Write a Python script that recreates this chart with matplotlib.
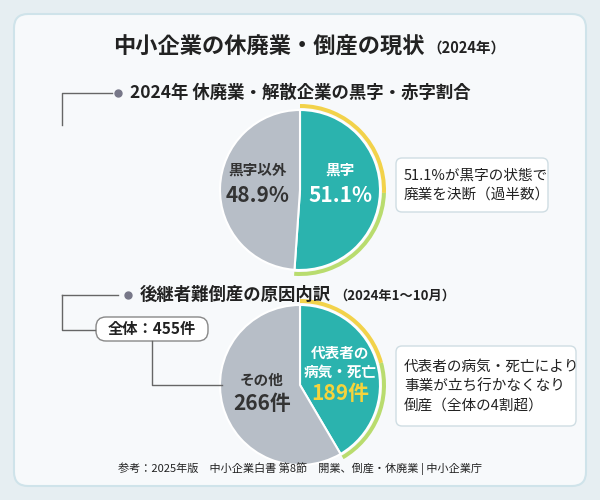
import matplotlib
matplotlib.use("Agg")
import matplotlib.pyplot as plt
from matplotlib.patches import FancyBboxPatch, Wedge

plt.rcParams['font.family'] = ['Noto Sans CJK JP', 'DejaVu Sans']

pie1_labels = ["黒字", "黒字以外"]
pie1_values = [51.1, 48.9]
pie2_labels = ["代表者の\n病気・死亡", "その他"]
pie2_values = [189, 266]
total = 455

fig = plt.figure(figsize=(6, 5), dpi=100)
fig.patch.set_facecolor('#e6eef2')
ax = fig.add_axes([0, 0, 1, 1])
Y = lambda y: 500 - y

ax.add_patch(FancyBboxPatch((14, 14), 572, 472, boxstyle="round,pad=0,rounding_size=14",
                            fc='#f7f9fb', ec='#cfe3ea', lw=1.5))
ax.text(425, Y(47), "中小企業の休廃業・倒産の現状", ha='right', va='center', fontsize=16,
        fontweight='bold', color='#222')
ax.text(427, Y(48), "（2024年）", ha='left', va='center', fontsize=10.5, fontweight='bold', color='#222')

teal, gray = '#2bb3ae', '#b7bec7'
def draw_pie(cy, vals):
    c = (300, Y(cy)); r = 80
    ax.pie(vals, colors=[teal, gray], startangle=90, counterclock=False, center=c, radius=r,
           wedgeprops=dict(ec='white', lw=1.5), frame=True)
    frac = vals[0] / sum(vals)
    a0 = 90 - 360 * frac
    mid = 90 - 360 * frac / 2
    ax.add_patch(Wedge(c, r + 6, mid, 90, width=4, fc='#f2d24a', ec='none'))
    ax.add_patch(Wedge(c, r + 6, a0, mid, width=4, fc='#b9dc6e', ec='none'))

draw_pie(190, pie1_values)
draw_pie(385, pie2_values)
ax.set_xlim(0, 600); ax.set_ylim(0, 500); ax.set_aspect('equal'); ax.axis('off')

# section 1
ax.plot([62, 62, 112], [Y(125), Y(93), Y(93)], color='#666', lw=1)
ax.plot(118, Y(93), 'o', color='#778', ms=5)
ax.text(130, Y(93), "2024年 休廃業・解散企業の黒字・赤字割合", ha='left', va='center',
        fontsize=12.5, fontweight='bold', color='#222')
ax.text(340, Y(170), pie1_labels[0], ha='center', va='center', fontsize=10.5, fontweight='bold', color='white')
ax.text(340, Y(195), f"{pie1_values[0]}%", ha='center', va='center', fontsize=15, fontweight='bold', color='white')
ax.text(258, Y(170), pie1_labels[1], ha='center', va='center', fontsize=10.5, fontweight='bold', color='#333')
ax.text(258, Y(195), f"{pie1_values[1]}%", ha='center', va='center', fontsize=15, fontweight='bold', color='#333')
ax.add_patch(FancyBboxPatch((396, Y(212)), 152, 54, boxstyle="round,pad=0,rounding_size=6",
                            fc='white', ec='#cfdde3', lw=1))
ax.text(404, Y(185), f"{pie1_values[0]}%が黒字の状態で\n廃業を決断（過半数）", ha='left', va='center',
        fontsize=10.5, color='#222', linespacing=1.5)

# section 2
ax.plot([62, 62, 95], [Y(295), Y(330), Y(330)], color='#666', lw=1)
ax.plot([62, 118], [Y(295), Y(295)], color='#666', lw=1)
ax.plot(128, Y(295), 'o', color='#778', ms=5)
ax.text(140, Y(295), "後継者難倒産の原因内訳", ha='left', va='center', fontsize=12.5, fontweight='bold', color='#222')
ax.text(334, Y(296), "（2024年1～10月）", ha='left', va='center', fontsize=9.5, fontweight='bold', color='#222')
ax.plot([152, 152, 222], [Y(341), Y(385), Y(385)], color='#666', lw=1)
ax.add_patch(FancyBboxPatch((96, Y(341)), 112, 24, boxstyle="round,pad=0,rounding_size=10",
                            fc='white', ec='#888', lw=1))
ax.text(152, Y(329), f"全体：{total}件", ha='center', va='center', fontsize=11, fontweight='bold', color='#222')
ax.text(340, Y(362), pie2_labels[0], ha='center', va='center', fontsize=10.5, fontweight='bold',
        color='white', linespacing=1.2)
ax.text(340, Y(394), f"{pie2_values[0]}件", ha='center', va='center', fontsize=15, fontweight='bold', color='#f5d43c')
ax.text(262, Y(380), pie2_labels[1], ha='center', va='center', fontsize=10.5, fontweight='bold', color='#333')
ax.text(262, Y(404), f"{pie2_values[1]}件", ha='center', va='center', fontsize=15, fontweight='bold', color='#333')
ax.add_patch(FancyBboxPatch((396, Y(426)), 180, 80, boxstyle="round,pad=0,rounding_size=6",
                            fc='white', ec='#cfdde3', lw=1))
ax.text(404, Y(386), "代表者の病気・死亡により\n事業が立ち行かなくなり\n倒産（全体の4割超）", ha='left',
        va='center', fontsize=10.5, color='#222', linespacing=1.5)

ax.text(300, Y(469), "参考：2025年版　中小企業白書 第8節　開業、倒産・休廃業 | 中小企業庁",
        ha='center', va='center', fontsize=8, color='#222')

fig.savefig("out.png", dpi=100, facecolor=fig.get_facecolor())
